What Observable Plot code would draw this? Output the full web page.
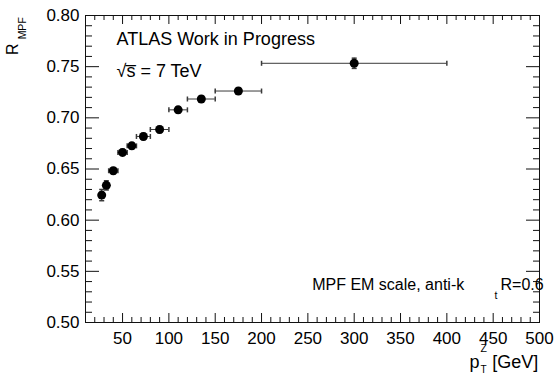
<!DOCTYPE html>
<html><head><meta charset="utf-8">
<script src="https://cdn.jsdelivr.net/npm/d3@7"></script>
<script src="https://cdn.jsdelivr.net/npm/@observablehq/plot@0.6"></script>
<style>
html,body{margin:0;padding:0;background:#fff;}
#chart svg{display:block;}
</style></head><body><div id="chart"></div>
<script>
// pT^Z bin centres and bin edges [GeV]
const ptZ    = [27.5, 32.5, 40, 50, 60, 72.5, 90, 110, 135, 175, 300];
const ptLow  = [25, 30, 35, 45, 55, 65, 80, 100, 120, 150, 200];
const ptHigh = [30, 35, 45, 55, 65, 80, 100, 120, 150, 200, 400];
// MPF response and its uncertainty
const rMPF = [0.6245, 0.634, 0.6483, 0.6662, 0.6726, 0.6818, 0.6886, 0.7078, 0.7184, 0.7262, 0.7533];
const rErr = [0.0055, 0.0045, 0.003, 0.003, 0.003, 0.003, 0.003, 0.003, 0.003, 0.003, 0.005];
// axis ticks
const xTickLabels = [50, 100, 150, 200, 250, 300, 350, 400, 450, 500];
const yTickLabels = [0.50, 0.55, 0.60, 0.65, 0.70, 0.75, 0.80];
const xMinor = d3.range(10, 500, 10).filter(v => v % 50 !== 0);
const yMinor = d3.range(50, 80, 1).filter(v => v % 5 !== 0).map(v => v / 100);

const data = ptZ.map((x, i) => ({x, lo: ptLow[i], hi: ptHigh[i], r: rMPF[i], e: rErr[i]}));

const vcap = {draw(c) { c.moveTo(0, -2.5); c.lineTo(0, 2.5); }};
const hcap = {draw(c) { c.moveTo(-2.5, 0); c.lineTo(2.5, 0); }};
const FONT = "'Liberation Sans', Arial, Helvetica, sans-serif";
const errColor = "#3a3a3a";
const tickColor = "#111";

const txt = (s, o) => Plot.text([s], {text: d => d, textAnchor: "start", lineAnchor: "bottom", fill: "#000", ...o});

const chart = Plot.plot({
  width: 555, height: 373,
  marginLeft: 85, marginRight: 16, marginTop: 15, marginBottom: 51,
  style: {fontFamily: FONT, fontSize: "17px", color: "#000", background: "#fff"},
  x: {domain: [10, 500]},
  y: {domain: [0.5, 0.8]},
  marks: [
    // tick labels
    Plot.axisX(xTickLabels, {anchor: "bottom", tickSize: 0, tickPadding: 9, tickFormat: d => String(d), label: null, fontSize: 17}),
    Plot.axisY(yTickLabels, {anchor: "left", tickSize: 0, tickPadding: 6, tickFormat: d3.format(".2f"), label: null, fontSize: 17}),
    // inward ticks on all sides
    Plot.axisX(xTickLabels, {anchor: "bottom", tickSize: -9, fill: "none", label: null, stroke: tickColor}),
    Plot.axisX(xMinor, {anchor: "bottom", tickSize: -5, fill: "none", label: null, stroke: tickColor}),
    Plot.axisX(xTickLabels, {anchor: "top", tickSize: -8, fill: "none", label: null, stroke: tickColor}),
    Plot.axisX(xMinor, {anchor: "top", tickSize: -4, fill: "none", label: null, stroke: tickColor}),
    Plot.axisY(yTickLabels, {anchor: "left", tickSize: -14, fill: "none", label: null, stroke: tickColor}),
    Plot.axisY(yMinor, {anchor: "left", tickSize: -7, fill: "none", label: null, stroke: tickColor}),
    Plot.axisY(yTickLabels, {anchor: "right", tickSize: -14, fill: "none", label: null, stroke: tickColor}),
    Plot.axisY(yMinor, {anchor: "right", tickSize: -7, fill: "none", label: null, stroke: tickColor}),
    Plot.frame({stroke: tickColor, strokeWidth: 1}),
    // error bars
    Plot.ruleY(data, {y: "r", x1: "lo", x2: "hi", stroke: errColor}),
    Plot.ruleX(data, {x: "x", y1: d => d.r - d.e, y2: d => d.r + d.e, stroke: errColor}),
    Plot.dot(data, {x: "lo", y: "r", symbol: vcap, stroke: errColor, fill: "none"}),
    Plot.dot(data, {x: "hi", y: "r", symbol: vcap, stroke: errColor, fill: "none"}),
    Plot.dot(data, {x: "x", y: d => d.r + d.e, symbol: hcap, stroke: errColor, fill: "none"}),
    Plot.dot(data, {x: "x", y: d => d.r - d.e, symbol: hcap, stroke: errColor, fill: "none"}),
    // markers
    Plot.dot(data, {x: "x", y: "r", r: 4.5, fill: "#000", stroke: "none"}),
    // annotations
    txt("ATLAS Work in Progress", {frameAnchor: "top-left", dx: 31, dy: 29.3, fontSize: 18}),
    txt("\u221As\u0305 = 7 TeV", {frameAnchor: "top-left", dx: 31, dy: 61, fontSize: 18}),
    txt("MPF EM scale, anti-k", {frameAnchor: "top-left", dx: 226.7, dy: 274.3, fontSize: 16}),
    txt("t", {frameAnchor: "top-left", dx: 409, dy: 283.3, fontSize: 10.5}),
    txt("R=0.6", {frameAnchor: "top-left", dx: 415, dy: 274.3, fontSize: 16}),
    // axis titles
    txt("p", {frameAnchor: "bottom-left", dx: 384, dy: 45.3, fontSize: 18}),
    txt("Z", {frameAnchor: "bottom-left", dx: 395, dy: 29.5, fontSize: 10.5}),
    txt("T", {frameAnchor: "bottom-left", dx: 395, dy: 50.5, fontSize: 10}),
    txt("[GeV]", {frameAnchor: "bottom-left", dx: 406.7, dy: 45.3, fontSize: 18}),
    txt("R", {frameAnchor: "top-left", dx: -67.7, dy: 28, fontSize: 16, rotate: -90, textAnchor: "end"}),
    txt("MPF", {frameAnchor: "top-left", dx: -59.8, dy: 1.7, fontSize: 10.5, rotate: -90, textAnchor: "end"})
  ]
});
document.getElementById("chart").appendChild(chart);
</script>
</body></html>
